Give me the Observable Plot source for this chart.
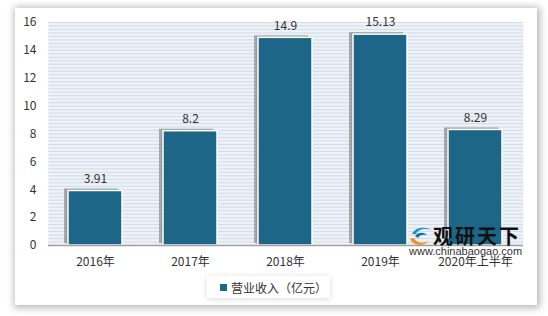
<!DOCTYPE html>
<html><head><meta charset="utf-8">
<script src="https://cdn.jsdelivr.net/npm/d3@7"></script>
<script src="https://cdn.jsdelivr.net/npm/@observablehq/plot@0.6"></script>
<style>
html,body{margin:0;padding:0;background:#fff;}
#wrap{position:relative;width:548px;height:316px;overflow:hidden;font-family:"Noto Sans CJK SC","Noto Sans",sans-serif;}
#card{position:absolute;left:15px;top:8px;width:522px;height:297px;background:#fff;box-shadow:1px 1px 7px 2px rgba(0,0,0,0.28);}
#chart{position:absolute;left:0;top:0;}
#legend{position:absolute;left:207px;top:276px;width:123px;height:22px;background:#fff;box-shadow:0 1px 6px rgba(0,0,0,0.15);font-size:12px;color:#333;display:flex;align-items:center;}
#legend .sw{width:7px;height:7px;background:#1d6688;margin-left:13px;margin-right:4px;}
#wm1{position:absolute;left:433px;top:226px;font-size:20px;font-weight:bold;color:#111;letter-spacing:2px;line-height:20px;}
#wm2{position:absolute;left:409px;top:246px;font-size:11px;color:#333;font-family:"Liberation Sans",Arial,sans-serif;line-height:10px;}
#logo{position:absolute;left:409px;top:225px;}
</style></head>
<body>
<div id="wrap">
  <div id="card"></div>
  <div id="chart"></div>
  <svg id="logo" width="24" height="22" viewBox="0 0 24 22">
    <path d="M3 9 C6 2,16 1,22 5 C16 3,9 4,7 9 Z" fill="#1e8fc8"/>
    <path d="M6 11 C9 7,15 7,18 10 C14 9,10 10,9 13 Z" fill="#1e6fa8"/>
    <path d="M1 14 C4 21,14 22,20 16 C14 19,7 18,5 13 Z" fill="#f0901e"/>
  </svg>
  <div id="wm1">观研天下</div>
  <div id="wm2">www.chinabaogao.com</div>
  <div id="legend"><span class="sw"></span><span>营业收入（亿元）</span></div>
</div>
<script>
const categories = ["2016年","2017年","2018年","2019年","2020年上半年"];
const revenue = [3.91, 8.2, 14.9, 15.13, 8.29];
const yTicks = [0,2,4,6,8,10,12,14,16];
const gridLines = d3.range(0, 16.01, 0.25);

const data = categories.map((c,i)=>({cat:c, value:revenue[i]}));
const barColor = "#1d6688";

const chart = Plot.plot({
  width: 548,
  height: 316,
  marginLeft: 48,
  marginRight: 25,
  marginTop: 22,
  marginBottom: 71,
  style: {fontFamily: '"Noto Sans CJK SC","Noto Sans",sans-serif', fontSize: "12px", color: "#333", background: "transparent"},
  x: {domain: categories, paddingInner: 0.43, paddingOuter: 0.215, label: null, tickSize: 0, tickPadding: 12},
  y: {domain: [0,16], ticks: yTicks, label: null, tickSize: 0, tickPadding: 12},
  marks: [
    Plot.frame({fill: "#edf2f8", stroke: null}),
    Plot.ruleY(gridLines, {stroke: "#d3dbe6", strokeWidth: 1}),
    Plot.barY(data, {x: "cat", y: "value", fill: "#666", fillOpacity: 0.5, dx: -4, dy: -2}),
    Plot.barY(data, {x: "cat", y: "value", fill: "#888", fillOpacity: 0.4, dx: -2, dy: -1}),
    Plot.barY(data, {x: "cat", y: "value", fill: barColor, stroke: "#fff", strokeWidth: 1.5}),
    Plot.ruleY([0], {stroke: "#a0a0a0", strokeWidth: 1.5}),
    Plot.text(data, {x: "cat", y: "value", text: d => String(d.value), dy: -12, fill: "#333", fontSize: 12})
  ]
});
document.getElementById("chart").appendChild(chart);
</script>
</body></html>
